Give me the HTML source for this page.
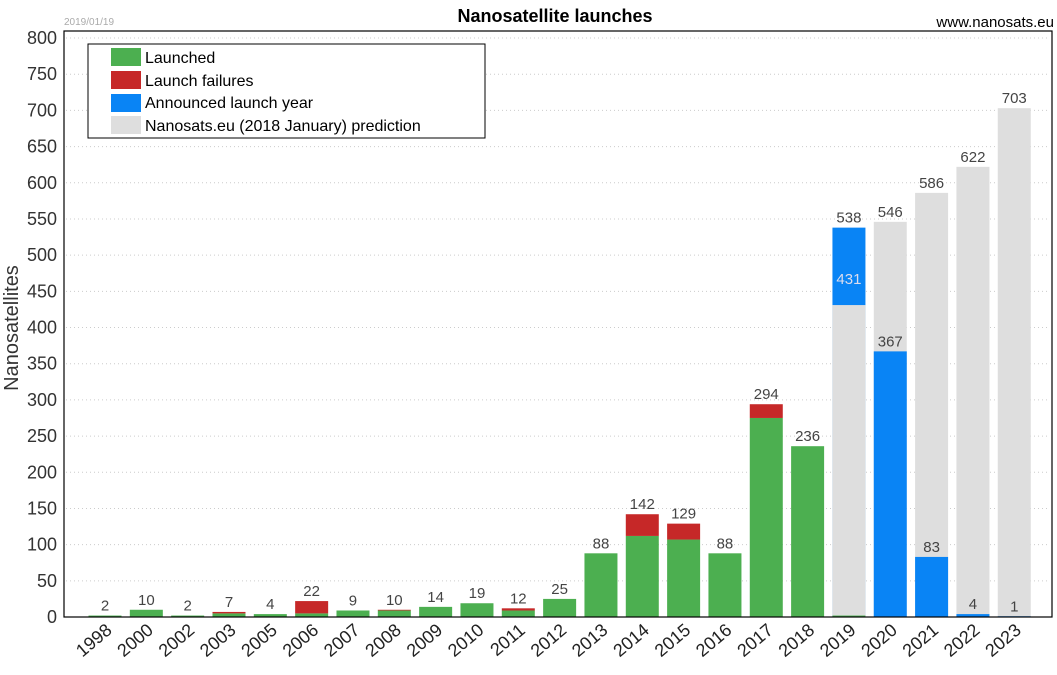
<!DOCTYPE html>
<html><head><meta charset="utf-8"><style>
body{margin:0;background:#fff;}
svg text{font-family:"Liberation Sans","DejaVu Sans",sans-serif;}
</style></head><body>
<svg id="chart" width="1057" height="670" xmlns="http://www.w3.org/2000/svg">
<text x="555" y="22" text-anchor="middle" font-size="18" font-weight="bold" fill="#000">Nanosatellite launches</text>
<text x="64" y="25" font-size="10" fill="#aaa">2019/01/19</text>
<text x="1054" y="27" text-anchor="end" font-size="15" fill="#000">www.nanosats.eu</text>
<text transform="translate(18,328) rotate(-90)" text-anchor="middle" font-size="20" fill="#333">Nanosatellites</text>
<g id="grid"></g>
<g id="bars"></g>
<g id="labels"></g>
<rect x="64" y="31" width="988" height="586" fill="none" stroke="#000" stroke-width="1.2"/>
<g id="legend">
<rect x="88" y="44" width="397" height="94" fill="#fff" stroke="#000" stroke-width="1"/>
<rect x="111" y="48" width="30" height="18" fill="#4caf50"/>
<text x="145" y="63" font-size="16" fill="#000">Launched</text>
<rect x="111" y="71" width="30" height="18" fill="#c62828"/>
<text x="145" y="86" font-size="16" fill="#000">Launch failures</text>
<rect x="111" y="94" width="30" height="18" fill="#0984f5"/>
<text x="145" y="108" font-size="16" fill="#000">Announced launch year</text>
<rect x="111" y="116" width="30" height="18" fill="#dedede"/>
<text x="145" y="131" font-size="16" fill="#000">Nanosats.eu (2018 January) prediction</text>
</g>
</svg>
<script>
const categories=["1998","2000","2002","2003","2005","2006","2007","2008","2009","2010","2011","2012","2013","2014","2015","2016","2017","2018","2019","2020","2021","2022","2023"];
const launched=[2,10,2,5,4,5,9,9,14,19,9,25,88,112,107,88,275,236,2,0,0,0,0];
const failures=[0,0,0,2,0,17,0,1,0,0,3,0,0,30,22,0,19,0,0,0,0,0,0];
const announced=[0,0,0,0,0,0,0,0,0,0,0,0,0,0,0,0,0,0,538,367,83,4,1];
const prediction=[0,0,0,0,0,0,0,0,0,0,0,0,0,0,0,0,0,0,431,546,586,622,703];
const yTicks=[0,50,100,150,200,250,300,350,400,450,500,550,600,650,700,750,800];
const NS="http://www.w3.org/2000/svg";
function y(v){return 617-v*(579/800);}
function xc(i){return 105+i*41.33;}
const BW=33;
function mk(tag,attrs,parent){const e=document.createElementNS(NS,tag);for(const k in attrs)e.setAttribute(k,attrs[k]);parent.appendChild(e);return e;}
const grid=document.getElementById('grid'),bars=document.getElementById('bars'),labels=document.getElementById('labels');
yTicks.forEach(t=>{
  if(t>0){const l=mk('line',{x1:66,x2:1050,y1:y(t),y2:y(t),stroke:'#ccc','stroke-dasharray':'1,3'},grid);
  
  }
  const tx=mk('text',{x:57,y:y(t)+6,'text-anchor':'end','font-size':18,fill:'#333'},grid);
  tx.textContent=t;
  
  
});
function bar(i,v0,v1,fill,name){
  if(v1<=v0)return;
  const r=mk('rect',{x:xc(i)-BW/2,y:y(v1),width:BW,height:y(v0)-y(v1),fill:fill},bars);
  
  
}
function lab(i,v,txt,fill){
  const t=mk('text',{x:xc(i),y:y(v)-5,'text-anchor':'middle','font-size':15,fill:fill},labels);
  t.textContent=txt;
  
  
}
categories.forEach((c,i)=>{
  if(announced[i]>prediction[i]){
    bar(i,0,announced[i],'#0984f5','bar-announced-'+c);
    bar(i,0,prediction[i],'#dedede','bar-prediction-'+c);
  }else{
    bar(i,0,prediction[i],'#dedede','bar-prediction-'+c);
    bar(i,0,announced[i],'#0984f5','bar-announced-'+c);
  }
  bar(i,0,launched[i],'#4caf50','bar-launched-'+c);
  bar(i,launched[i],launched[i]+failures[i],'#c62828','bar-failures-'+c);
  const tot=launched[i]+failures[i];
  if(tot>0&&prediction[i]===0)lab(i,tot,tot,'#444');
  if(prediction[i]>0){
    if(announced[i]>prediction[i]){lab(i,announced[i],announced[i],'#444');lab(i,prediction[i]+22,prediction[i],'#dde');}
    else{lab(i,prediction[i],prediction[i],'#444');lab(i,announced[i],announced[i],'#444');}
  }
  const t=mk('text',{transform:'translate('+(xc(i)+8)+',632) rotate(-40)','text-anchor':'end','font-size':18,fill:'#222'},labels);
  t.textContent=c;
  
  
});
</script>
</body></html>
